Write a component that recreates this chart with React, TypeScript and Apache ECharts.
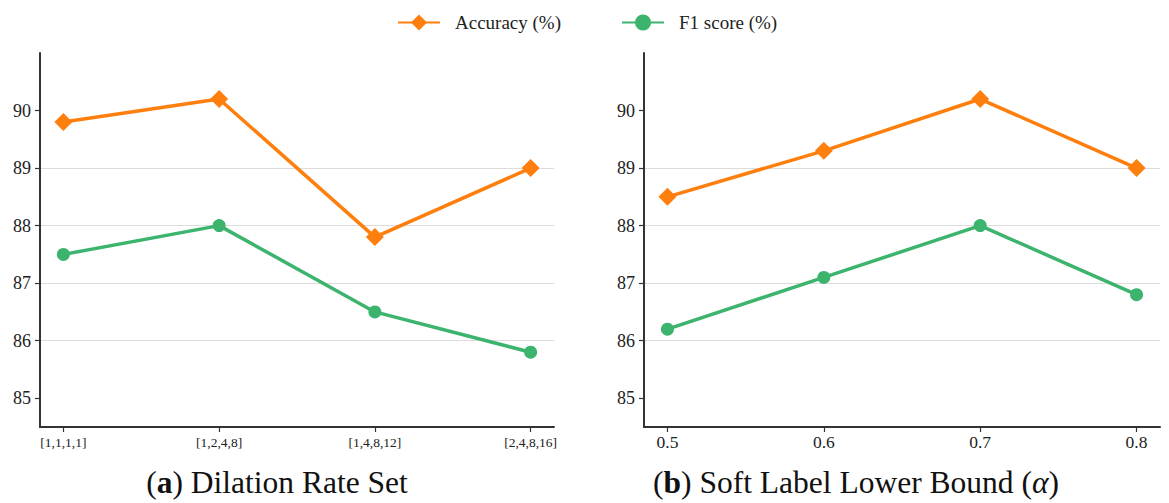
import React, { useEffect, useRef } from "react";
import * as echarts from "echarts";

const dilationCategories = ["[1,1,1,1]", "[1,2,4,8]", "[1,4,8,12]", "[2,4,8,16]"];
const alphaCategories = ["0.5", "0.6", "0.7", "0.8"];
const dilationAccuracy = [89.8, 90.2, 87.8, 89.0];
const dilationF1 = [87.5, 88.0, 86.5, 85.8];
const alphaAccuracy = [88.5, 89.3, 90.2, 89.0];
const alphaF1 = [86.2, 87.1, 88.0, 86.8];
const yTicks = [85, 86, 87, 88, 89, 90];

const ORANGE = "#ff7f0e";
const GREEN = "#3cb46e";
const FONT = "serif";

export default function App() {
  const ref = useRef<HTMLDivElement>(null);
  useEffect(() => {
    document.body.style.margin = "0";
    const chart = echarts.init(ref.current!, null, { renderer: "svg" });
    const idx = [0, 1, 2, 3];
    const toPts = (vals: number[]) => vals.map((v, i) => [i, v]);
    const xAxisBase = (cats: string[], gi: number, fs: number, margin: number) => ({
      type: "value",
      gridIndex: gi,
      min: -0.15,
      max: 3.15,
      axisLine: { show: true, onZero: false, lineStyle: { color: "#333", width: 2 } },
      axisTick: { show: true, customValues: idx, length: 5, lineStyle: { color: "#333", width: 1.2 } },
      axisLabel: {
        customValues: idx,
        formatter: (v: number) => cats[Math.round(v)],
        fontFamily: FONT,
        fontSize: fs,
        color: "#222",
        margin,
      },
      splitLine: { show: false },
    });
    const yAxisBase = (gi: number) => ({
      type: "value",
      gridIndex: gi,
      min: 84.5,
      max: 91,
      axisLine: { show: true, onZero: false, lineStyle: { color: "#333", width: 2 } },
      axisTick: { show: true, customValues: yTicks, length: 5, lineStyle: { color: "#333", width: 1.2 } },
      axisLabel: {
        customValues: yTicks,
        fontFamily: FONT,
        fontSize: 18,
        color: "#222",
        margin: 9,
      },
      splitLine: { show: true, showMinLine: false, showMaxLine: false, lineStyle: { color: "#dcdcdc", width: 1.2 } },
    });
    const acc = (data: number[], gi: number) => ({
      name: "Accuracy (%)",
      type: "line",
      xAxisIndex: gi,
      yAxisIndex: gi,
      data: toPts(data),
      symbol: "diamond",
      symbolSize: 18,
      lineStyle: { color: ORANGE, width: 3.5 },
      itemStyle: { color: ORANGE },
    });
    const f1 = (data: number[], gi: number) => ({
      name: "F1 score (%)",
      type: "line",
      xAxisIndex: gi,
      yAxisIndex: gi,
      data: toPts(data),
      symbol: "circle",
      symbolSize: 13,
      lineStyle: { color: GREEN, width: 3.5 },
      itemStyle: { color: GREEN },
    });
    chart.setOption({
      animation: false,
      backgroundColor: "#fff",
      textStyle: { fontFamily: FONT },
      legend: {
        left: 392,
        top: 8,
        itemWidth: 42,
        itemHeight: 20,
        itemGap: 60,
        textStyle: { fontFamily: FONT, fontSize: 19, color: "#222", padding: [0, 0, 0, 10] },
        data: ["Accuracy (%)", "F1 score (%)"],
      },
      grid: [
        { left: 40, top: 53, width: 514, height: 374 },
        { left: 644, top: 53, width: 516, height: 374 },
      ],
      xAxis: [xAxisBase(dilationCategories, 0, 13.5, 8), xAxisBase(alphaCategories, 1, 17.5, 6)],
      yAxis: [yAxisBase(0), yAxisBase(1)],
      series: [acc(dilationAccuracy, 0), f1(dilationF1, 0), acc(alphaAccuracy, 1), f1(alphaF1, 1)],
      graphic: [
        {
          type: "text",
          x: 277,
          y: 482,
          style: {
            text: "{n|(}{b|a}{n|) Dilation Rate Set}",
            align: "center",
            verticalAlign: "middle",
            rich: {
              n: { fontFamily: FONT, fontSize: 31.5, fill: "#111" },
              b: { fontFamily: FONT, fontSize: 31.5, fontWeight: "bold", fill: "#111" },
            },
          },
        },
        {
          type: "text",
          x: 856,
          y: 482,
          style: {
            text: "{n|(}{b|b}{n|) Soft Label Lower Bound (}{i|α}{n|)}",
            align: "center",
            verticalAlign: "middle",
            rich: {
              n: { fontFamily: FONT, fontSize: 31.5, fill: "#111" },
              b: { fontFamily: FONT, fontSize: 31.5, fontWeight: "bold", fill: "#111" },
              i: { fontFamily: FONT, fontSize: 31.5, fontStyle: "italic", fill: "#111" },
            },
          },
        },
      ],
    });
    return () => chart.dispose();
  }, []);
  return <div ref={ref} style={{ width: 1169, height: 503 }} />;
}
